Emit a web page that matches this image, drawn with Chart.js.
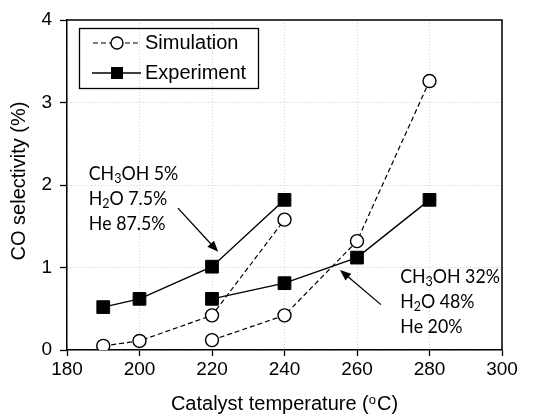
<!DOCTYPE html>
<html>
<head>
<meta charset="utf-8">
<script src="https://cdn.jsdelivr.net/npm/chart.js@4.4.0/dist/chart.umd.min.js"></script>
<style>
  html, body { margin: 0; padding: 0; background: #fff; }
  #wrap { width: 545px; height: 419px; }
</style>
</head>
<body>
<div id="wrap"><canvas id="chart"></canvas></div>
<script>
// Catalyst temperature (°C) for the two feed compositions
const tempsLow = [190, 200, 220, 240];   // CH3OH 5%
const tempsHigh = [220, 240, 260, 280];  // CH3OH 32%

// CO selectivity (%)
const simLow = [0.05, 0.11, 0.42, 1.58];
const simHigh = [0.12, 0.42, 1.32, 3.26];
const expLow = [0.52, 0.62, 1.01, 1.82];
const expHigh = [0.62, 0.81, 1.12, 1.82];

const xTicks = [180, 200, 220, 240, 260, 280, 300];
const yTicks = [0, 1, 2, 3, 4];

const legendLabels = ['Simulation', 'Experiment'];
// "_" marks the next character as a subscript
const noteLow = ['CH_3OH 5%', 'H_2O 7.5%', 'He 87.5%'];
const noteHigh = ['CH_3OH 32%', 'H_2O 48%', 'He 20%'];

const ARIAL = "'Liberation Sans', Arial, sans-serif";
const TICK_FONT = { family: ARIAL, size: 19 };
const NOTE_FONT = "18.5px Lato, 'Noto Sans', sans-serif";
const NOTE_SUB = "13px Lato, 'Noto Sans', sans-serif";

function pts(xs, ys) {
    return xs.map((x, i) => ({ x: x, y: ys[i] }));
}

const simStyle = {
    borderColor: '#000', borderWidth: 1.2, borderDash: [5, 3],
    pointStyle: 'circle', pointRadius: 6.5, pointBorderWidth: 1.4,
    pointBackgroundColor: '#fff', pointBorderColor: '#000', fill: false
};
const expStyle = {
    borderColor: '#000', borderWidth: 1.4,
    pointStyle: 'rect', pointRadius: 9, pointBorderWidth: 1,
    pointBackgroundColor: '#000', pointBorderColor: '#000', fill: false
};

// text with "_" subscripts, drawn from left x at vertical middle y,
// slightly narrowed horizontally
function drawRich(ctx, str, x, y) {
    ctx.save();
    ctx.translate(x, y);
    ctx.scale(0.96, 1);
    ctx.textBaseline = 'middle';
    ctx.textAlign = 'left';
    let cx = 0;
    for (let i = 0; i < str.length; i++) {
        if (str[i] === '_') {
            i++;
            ctx.font = NOTE_SUB;
            ctx.fillText(str[i], cx, 5);
        } else {
            ctx.font = NOTE_FONT;
            ctx.fillText(str[i], cx, 0);
        }
        cx += ctx.measureText(str[i]).width;
    }
    ctx.restore();
}

function drawArrow(ctx, x1, y1, x2, y2) {
    const ang = Math.atan2(y2 - y1, x2 - x1);
    const len = 11, half = 4.5;
    const bx = x2 - len * Math.cos(ang), by = y2 - len * Math.sin(ang);
    ctx.beginPath();
    ctx.moveTo(x1, y1);
    ctx.lineTo(bx, by);
    ctx.lineWidth = 1.3;
    ctx.strokeStyle = '#000';
    ctx.stroke();
    ctx.beginPath();
    ctx.moveTo(x2, y2);
    ctx.lineTo(bx + half * Math.sin(ang), by - half * Math.cos(ang));
    ctx.lineTo(bx - half * Math.sin(ang), by + half * Math.cos(ang));
    ctx.closePath();
    ctx.fillStyle = '#000';
    ctx.fill();
}

const decorations = {
    id: 'decorations',
    afterDraw(chart) {
        const ctx = chart.ctx;
        const a = chart.chartArea;
        const xs = chart.scales.x, ys = chart.scales.y;
        const px = v => xs.getPixelForValue(v);
        const py = v => ys.getPixelForValue(v);
        ctx.save();

        // top and right edges of the plot frame
        ctx.strokeStyle = '#000';
        ctx.lineWidth = 1.5;
        ctx.beginPath();
        ctx.moveTo(a.left, a.top);
        ctx.lineTo(a.right, a.top);
        ctx.lineTo(a.right, a.bottom);
        ctx.stroke();

        // legend box
        ctx.lineWidth = 1.3;
        ctx.strokeRect(79.5, 28.5, 179, 60);
        ctx.fillStyle = '#000';
        ctx.font = '20px ' + ARIAL;
        ctx.textBaseline = 'middle';
        ctx.textAlign = 'left';
        ctx.fillText(legendLabels[0], 145, 43);
        ctx.fillText(legendLabels[1], 145, 73);

        ctx.lineWidth = 1.2;
        ctx.setLineDash([5, 3]);
        ctx.beginPath();
        ctx.moveTo(93, 43);
        ctx.lineTo(141, 43);
        ctx.stroke();
        ctx.setLineDash([]);
        ctx.beginPath();
        ctx.arc(117, 43, 6, 0, Math.PI * 2);
        ctx.fillStyle = '#fff';
        ctx.fill();
        ctx.lineWidth = 1.4;
        ctx.stroke();

        ctx.lineWidth = 1.4;
        ctx.beginPath();
        ctx.moveTo(92, 73);
        ctx.lineTo(141, 73);
        ctx.stroke();
        ctx.fillStyle = '#000';
        ctx.fillRect(117 - 6, 73 - 6, 12, 12);

        // composition notes with arrows
        ctx.fillStyle = '#000';
        noteLow.forEach((s, i) => drawRich(ctx, s, px(186), py(2.13) + i * 25));
        noteHigh.forEach((s, i) => drawRich(ctx, s, px(271.9), py(0.885) + i * 25));
        drawArrow(ctx, px(210.6), py(1.72), px(221.7), py(1.19));
        drawArrow(ctx, px(266.6), py(0.55), px(255.3), py(0.97));

        // axis titles
        ctx.fillStyle = '#000';
        const tf = '20px ' + ARIAL;
        const sf = '13px ' + ARIAL;
        ctx.font = tf;
        const p1 = 'Catalyst temperature (', p3 = 'C)';
        const w1 = ctx.measureText(p1).width, w3 = ctx.measureText(p3).width;
        ctx.font = sf;
        const w2 = ctx.measureText('o').width + 1;
        let tx = (a.left + a.right) / 2 - (w1 + w2 + w3) / 2;
        const ty = 404;
        ctx.textBaseline = 'middle';
        ctx.textAlign = 'left';
        ctx.font = tf;
        ctx.fillText(p1, tx, ty);
        ctx.font = sf;
        ctx.fillText('o', tx + w1, ty - 4);
        ctx.font = tf;
        ctx.fillText(p3, tx + w1 + w2, ty);

        ctx.translate(19, (a.top + a.bottom) / 2 - 4);
        ctx.rotate(-Math.PI / 2);
        ctx.textAlign = 'center';
        ctx.fillText('CO selectivity (%)', 0, 0);
        ctx.restore();
    }
};

function axisOpts(ticks) {
    return {
        type: 'linear',
        min: ticks[0],
        max: ticks[ticks.length - 1],
        afterBuildTicks: s => { s.ticks = ticks.map(v => ({ value: v })); },
        grid: { color: '#cfcfcf', lineWidth: 1, tickColor: '#000', tickLength: 7, tickWidth: 1.3 },
        border: { color: '#000', width: 1.5, dash: [1, 2] },
        ticks: { color: '#000', font: TICK_FONT, maxRotation: 0, autoSkip: false }
    };
}

const xAxis = axisOpts(xTicks);
xAxis.afterFit = s => { s.height = 69; };
xAxis.grid.tickLength = 6;
xAxis.ticks.padding = 2;
const yAxis = axisOpts(yTicks);
yAxis.afterFit = s => { s.width = 67; };
yAxis.ticks.padding = 8;

new Chart(document.getElementById('chart'), {
    type: 'line',
    data: {
        datasets: [
            Object.assign({ label: 'Simulation 5%', data: pts(tempsLow, simLow) }, simStyle),
            Object.assign({ label: 'Simulation 32%', data: pts(tempsHigh, simHigh) }, simStyle),
            Object.assign({ label: 'Experiment 5%', data: pts(tempsLow, expLow) }, expStyle),
            Object.assign({ label: 'Experiment 32%', data: pts(tempsHigh, expHigh) }, expStyle)
        ]
    },
    options: {
        responsive: true,
        maintainAspectRatio: false,
        animation: false,
        layout: { padding: { top: 20, right: 43, bottom: 0, left: 0 } },
        plugins: { legend: { display: false }, tooltip: { enabled: false } },
        scales: { x: xAxis, y: yAxis }
    },
    plugins: [decorations]
});
</script>
</body>
</html>
